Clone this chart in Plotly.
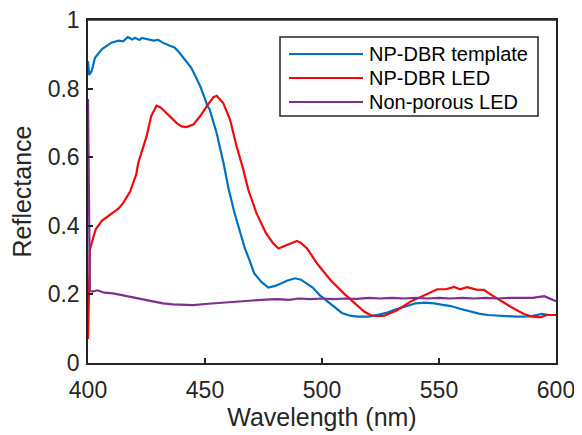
import plotly.graph_objects as go

# ---- data ----
template_wl = [400, 400.5, 401.5, 403, 406, 408, 410, 413, 415, 417, 419, 420, 422, 423, 425, 428, 430, 432, 435,
               437, 439, 442, 444, 446, 448, 450, 451, 452, 455, 458, 460, 462.5, 465, 467, 469, 471, 474, 477,
               480, 482, 485, 488.5, 491, 493.5, 496, 499, 503.5, 506, 508.5, 512, 515, 520, 524, 528, 531, 535,
               540, 544, 548, 551, 555, 559, 563, 567, 571, 577, 583, 589, 594, 597, 600]
template_r = [0.88, 0.84, 0.85, 0.89, 0.915, 0.925, 0.934, 0.94, 0.938, 0.95, 0.943, 0.948, 0.942, 0.948, 0.945,
              0.94, 0.942, 0.934, 0.925, 0.92, 0.905, 0.88, 0.862, 0.835, 0.806, 0.77, 0.75, 0.739, 0.67, 0.58,
              0.51, 0.44, 0.38, 0.335, 0.30, 0.262, 0.237, 0.22, 0.225, 0.23, 0.24, 0.247, 0.243, 0.232, 0.22,
              0.198, 0.174, 0.16, 0.146, 0.138, 0.135, 0.135, 0.14, 0.147, 0.155, 0.164, 0.174, 0.176, 0.174,
              0.17, 0.166, 0.158, 0.15, 0.144, 0.14, 0.137, 0.135, 0.136, 0.143, 0.14, 0.14]

led_wl = [400, 400.3, 400.8, 402, 403.3, 406, 408, 410.7, 413, 415, 418, 420.6, 421.5, 425, 427, 429.3, 431, 432,
          435, 437.8, 440, 442, 445, 448, 450.7, 453.6, 455, 457.8, 460.7, 463.5, 466.4, 468.5, 472, 476, 479,
          481.4, 485, 489.3, 491, 493.6, 497.9, 503.6, 509.3, 515, 518, 520.7, 523, 526.4, 532.1, 537.8, 543.5,
          549.3, 553, 556.4, 559, 562, 566, 569.2, 572, 574.9, 580.6, 586.3, 590, 593.4, 596, 600]
led_r = [0.07, 0.2, 0.33, 0.36, 0.39, 0.415, 0.425, 0.437, 0.45, 0.466, 0.5, 0.55, 0.584, 0.66, 0.72, 0.75, 0.745,
         0.739, 0.72, 0.70, 0.69, 0.688, 0.695, 0.72, 0.748, 0.775, 0.779, 0.758, 0.71, 0.632, 0.563, 0.505,
         0.437, 0.379, 0.35, 0.334, 0.344, 0.356, 0.35, 0.334, 0.29, 0.242, 0.203, 0.169, 0.15, 0.14, 0.137,
         0.137, 0.154, 0.179, 0.198, 0.215, 0.215, 0.222, 0.215, 0.221, 0.214, 0.213, 0.2, 0.188, 0.164, 0.143,
         0.135, 0.133, 0.14, 0.14]

nonporous_wl = [400, 400.4, 400.8, 402, 404, 407, 410.7, 415, 419.3, 423, 427.8, 432, 436.4, 440, 445, 450,
                453.6, 458, 462, 467, 471, 476, 481, 486, 490, 495, 500, 505, 510, 515, 520, 525, 530, 535, 540,
                545, 550, 555, 560, 565, 570, 575, 580, 585, 590, 595, 600]
nonporous_r = [0.77, 0.4, 0.21, 0.208, 0.212, 0.205, 0.203, 0.197, 0.191, 0.186, 0.179, 0.174, 0.171, 0.17, 0.169,
               0.172, 0.174, 0.176, 0.178, 0.18, 0.184, 0.185, 0.186, 0.184, 0.188, 0.186, 0.188, 0.186, 0.188,
               0.187, 0.19, 0.188, 0.19, 0.188, 0.19, 0.188, 0.19, 0.188, 0.19, 0.188, 0.19, 0.188, 0.19, 0.189,
               0.19, 0.195, 0.18]

series_names = ["NP-DBR template", "NP-DBR LED", "Non-porous LED"]
series_colors = ["#0072BD", "#EE0A0A", "#7E2F8E"]

x_ticks = [400, 450, 500, 550, 600]
y_ticks = [0, 0.2, 0.4, 0.6, 0.8, 1]
y_tick_labels = ["0", "0.2", "0.4", "0.6", "0.8", "1"]

FONT = "Arial, Liberation Sans, sans-serif"
AX = "#262626"

fig = go.Figure()
for wl, r, name, col in zip([template_wl, led_wl, nonporous_wl], [template_r, led_r, nonporous_r],
                            series_names, series_colors):
    fig.add_trace(go.Scatter(x=wl, y=r, mode="lines", name=name, line=dict(color=col, width=2.2),
                             showlegend=False))

axis_common = dict(showgrid=False, zeroline=False, showline=True, linecolor=AX, linewidth=1.5, mirror=True,
                   ticks="inside", ticklen=5, tickcolor=AX, tickwidth=1.5, automargin=False,
                   ticklabeloverflow="allow", tickfont=dict(family=FONT, size=23, color=AX))
fig.update_xaxes(range=[400, 600], tickvals=x_ticks, ticklabelstandoff=6,
                 title=dict(text="Wavelength (nm)", font=dict(family=FONT, size=25, color=AX), standoff=2),
                 **axis_common)
fig.update_yaxes(range=[0, 1], tickvals=y_ticks, ticktext=y_tick_labels, ticklabelstandoff=2,
                 title=dict(text="Reflectance", font=dict(family=FONT, size=25, color=AX), standoff=10),
                 **axis_common)

# page body adds an 8px offset; layout is given in window pixels and shifted
OFF = 8
W, H = 574, 427
L, R, T, B = 88 - OFF, 26, 20 - OFF, 72
pw, ph = W - L - R, H - T - B


def px(xw):
    return (xw - OFF - L) / pw


def py(yw):
    return 1 - (yw - OFF - T) / ph


# top frame edge (safeguard)
fig.add_shape(type="line", xref="paper", yref="paper", x0=0, x1=1, y0=1, y1=1,
              line=dict(color=AX, width=1.5), layer="above")

# manual legend (MATLAB-style long line samples)
fig.add_shape(type="rect", xref="paper", yref="paper", x0=px(280), x1=px(538), y0=py(37), y1=py(116),
              line=dict(color=AX, width=1.5), fillcolor="white", layer="above")
rows = [54, 78, 102]
for name, col, yr in zip(series_names, series_colors, rows):
    fig.add_shape(type="line", xref="paper", yref="paper", x0=px(289), x1=px(363), y0=py(yr), y1=py(yr),
                  line=dict(color=col, width=2), layer="above")
    fig.add_annotation(xref="paper", yref="paper", x=px(367), y=py(yr), text=name, showarrow=False,
                       xanchor="left", yanchor="middle", font=dict(family=FONT, size=20, color="black"))

fig.update_layout(width=W, height=H, margin=dict(l=L, r=R, t=T, b=B), plot_bgcolor="white",
                  paper_bgcolor="white", showlegend=False)
fig.write_html("out.html")
